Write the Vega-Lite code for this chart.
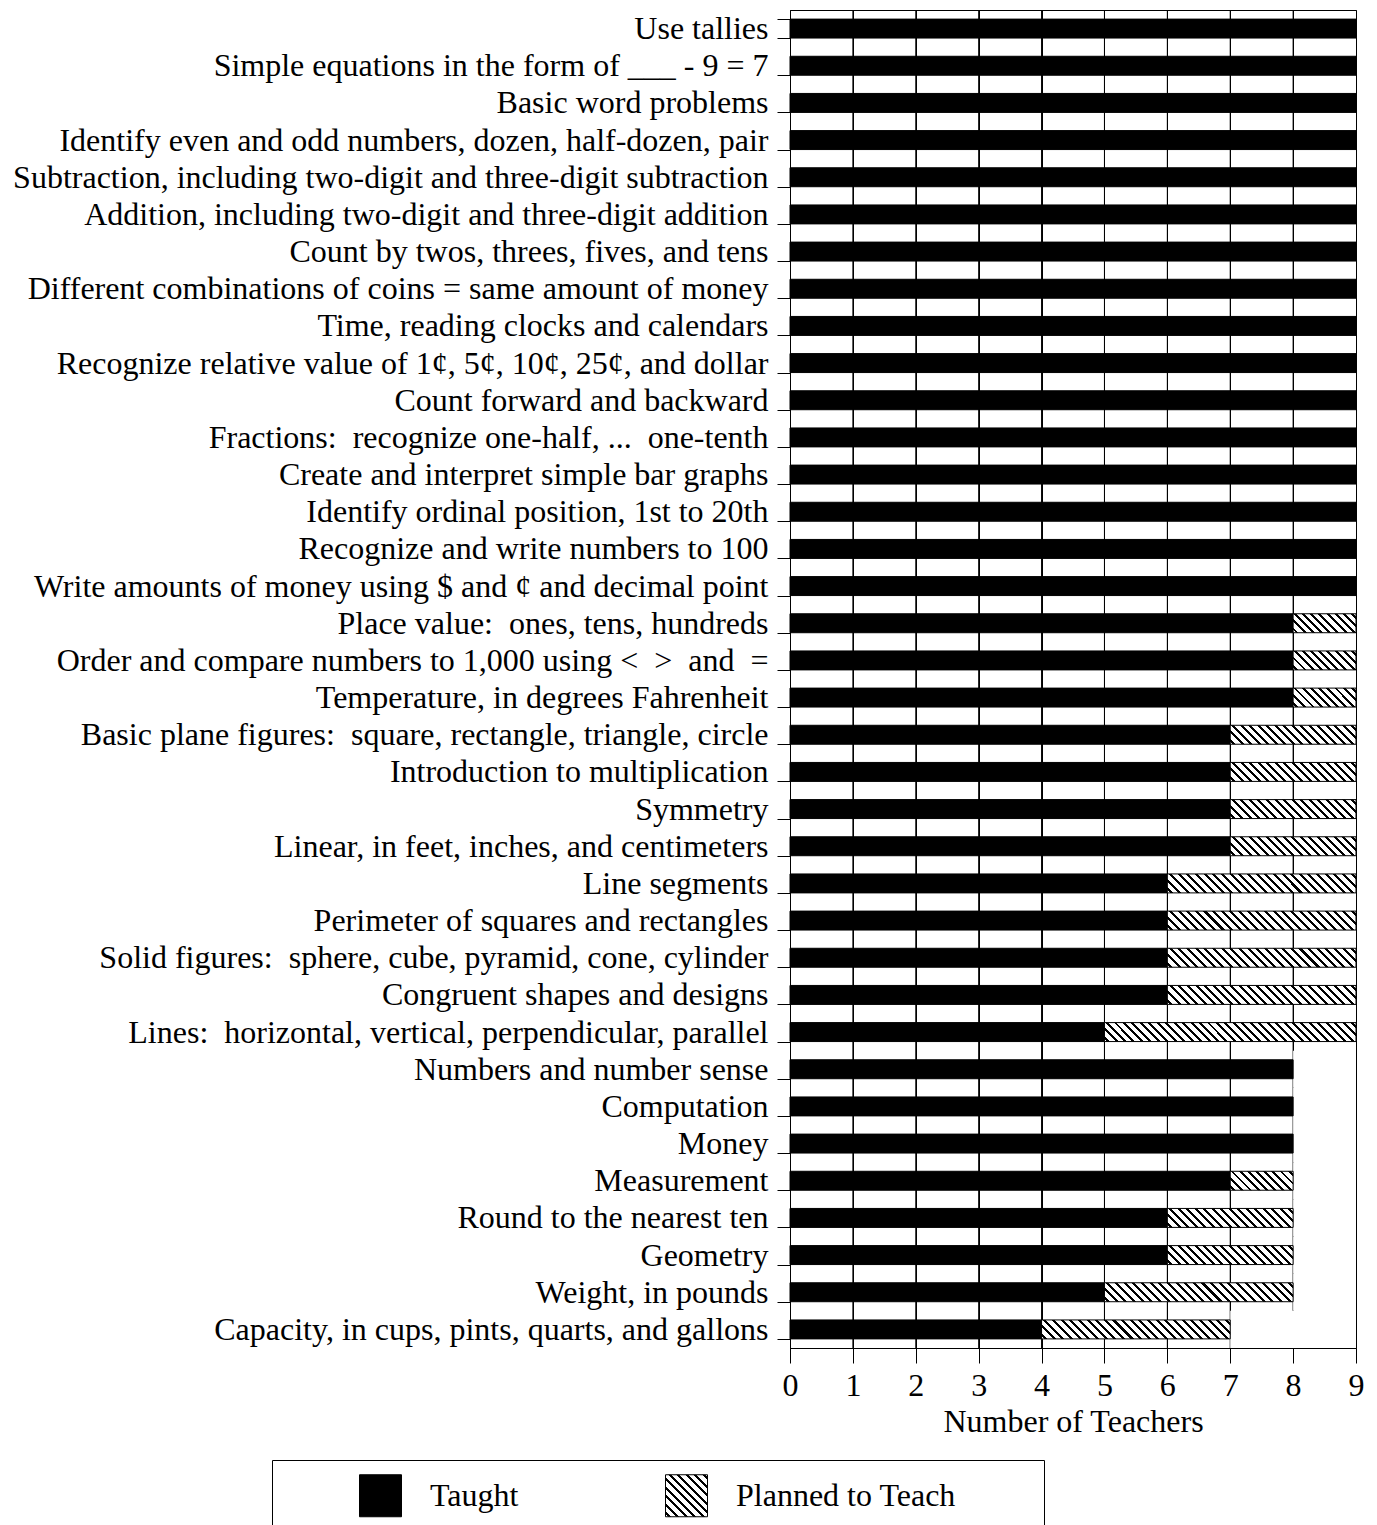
{
  "$schema": "https://vega.github.io/schema/vega-lite/v6.json",
  "width": 566,
  "height": 1338,
  "autosize": {"type": "none"},
  "padding": {"left": 790, "top": 10, "right": 21, "bottom": 177},
  "background": "white",
  "config": {
    "font": "Liberation Serif",
    "view": {"stroke": "black", "strokeWidth": 1},
    "axis": {"labelColor": "black", "titleColor": "black", "domainColor": "black", "tickColor": "black", "domainWidth": 1, "tickWidth": 1},
    "axisX": {"grid": true, "gridColor": "black", "gridOpacity": 1, "gridWidth": 1}
  },
  "datasets": {
    "grid": [{"v": 1}, {"v": 2}, {"v": 3}, {"v": 4}, {"v": 5}, {"v": 6}, {"v": 7}, {"v": 8}],
    "teachers": [
      {"topic": "Use tallies", "status": "Taught", "count": 9},
      {"topic": "Simple equations in the form of ___ - 9 = 7", "status": "Taught", "count": 9},
      {"topic": "Basic word problems", "status": "Taught", "count": 9},
      {"topic": "Identify even and odd numbers, dozen, half-dozen, pair", "status": "Taught", "count": 9},
      {"topic": "Subtraction, including two-digit and three-digit subtraction", "status": "Taught", "count": 9},
      {"topic": "Addition, including two-digit and three-digit addition", "status": "Taught", "count": 9},
      {"topic": "Count by twos, threes, fives, and tens", "status": "Taught", "count": 9},
      {"topic": "Different combinations of coins = same amount of money", "status": "Taught", "count": 9},
      {"topic": "Time, reading clocks and calendars", "status": "Taught", "count": 9},
      {"topic": "Recognize relative value of 1¢, 5¢, 10¢, 25¢, and dollar", "status": "Taught", "count": 9},
      {"topic": "Count forward and backward", "status": "Taught", "count": 9},
      {"topic": "Fractions:\u00a0 recognize one-half, ...\u00a0 one-tenth", "status": "Taught", "count": 9},
      {"topic": "Create and interpret simple bar graphs", "status": "Taught", "count": 9},
      {"topic": "Identify ordinal position, 1st to 20th", "status": "Taught", "count": 9},
      {"topic": "Recognize and write numbers to 100", "status": "Taught", "count": 9},
      {"topic": "Write amounts of money using $ and ¢ and decimal point", "status": "Taught", "count": 9},
      {"topic": "Place value:\u00a0 ones, tens, hundreds", "status": "Taught", "count": 8},
      {"topic": "Place value:\u00a0 ones, tens, hundreds", "status": "Planned to Teach", "count": 1},
      {"topic": "Order and compare numbers to 1,000 using <\u00a0 >\u00a0 and\u00a0 =", "status": "Taught", "count": 8},
      {"topic": "Order and compare numbers to 1,000 using <\u00a0 >\u00a0 and\u00a0 =", "status": "Planned to Teach", "count": 1},
      {"topic": "Temperature, in degrees Fahrenheit", "status": "Taught", "count": 8},
      {"topic": "Temperature, in degrees Fahrenheit", "status": "Planned to Teach", "count": 1},
      {"topic": "Basic plane figures:\u00a0 square, rectangle, triangle, circle", "status": "Taught", "count": 7},
      {"topic": "Basic plane figures:\u00a0 square, rectangle, triangle, circle", "status": "Planned to Teach", "count": 2},
      {"topic": "Introduction to multiplication", "status": "Taught", "count": 7},
      {"topic": "Introduction to multiplication", "status": "Planned to Teach", "count": 2},
      {"topic": "Symmetry", "status": "Taught", "count": 7},
      {"topic": "Symmetry", "status": "Planned to Teach", "count": 2},
      {"topic": "Linear, in feet, inches, and centimeters", "status": "Taught", "count": 7},
      {"topic": "Linear, in feet, inches, and centimeters", "status": "Planned to Teach", "count": 2},
      {"topic": "Line segments", "status": "Taught", "count": 6},
      {"topic": "Line segments", "status": "Planned to Teach", "count": 3},
      {"topic": "Perimeter of squares and rectangles", "status": "Taught", "count": 6},
      {"topic": "Perimeter of squares and rectangles", "status": "Planned to Teach", "count": 3},
      {"topic": "Solid figures:\u00a0 sphere, cube, pyramid, cone, cylinder", "status": "Taught", "count": 6},
      {"topic": "Solid figures:\u00a0 sphere, cube, pyramid, cone, cylinder", "status": "Planned to Teach", "count": 3},
      {"topic": "Congruent shapes and designs", "status": "Taught", "count": 6},
      {"topic": "Congruent shapes and designs", "status": "Planned to Teach", "count": 3},
      {"topic": "Lines:\u00a0 horizontal, vertical, perpendicular, parallel", "status": "Taught", "count": 5},
      {"topic": "Lines:\u00a0 horizontal, vertical, perpendicular, parallel", "status": "Planned to Teach", "count": 4},
      {"topic": "Numbers and number sense", "status": "Taught", "count": 8},
      {"topic": "Computation", "status": "Taught", "count": 8},
      {"topic": "Money", "status": "Taught", "count": 8},
      {"topic": "Measurement", "status": "Taught", "count": 7},
      {"topic": "Measurement", "status": "Planned to Teach", "count": 1},
      {"topic": "Round to the nearest ten", "status": "Taught", "count": 6},
      {"topic": "Round to the nearest ten", "status": "Planned to Teach", "count": 2},
      {"topic": "Geometry", "status": "Taught", "count": 6},
      {"topic": "Geometry", "status": "Planned to Teach", "count": 2},
      {"topic": "Weight, in pounds", "status": "Taught", "count": 5},
      {"topic": "Weight, in pounds", "status": "Planned to Teach", "count": 3},
      {"topic": "Capacity, in cups, pints, quarts, and gallons", "status": "Taught", "count": 4},
      {"topic": "Capacity, in cups, pints, quarts, and gallons", "status": "Planned to Teach", "count": 3}
    ]
  },
  "layer": [
    {
      "data": {"name": "grid"},
      "mark": {"type": "rule", "color": "black", "strokeWidth": 1},
      "encoding": {
        "x": {"field": "v", "type": "quantitative", "title": "Number of Teachers", "scale": {"domain": [0, 9], "nice": false}}
      }
    },
    {
      "data": {"name": "teachers"},
      "mark": {"type": "bar", "fill": "white", "strokeWidth": 0, "height": {"band": 1.961}},
      "encoding": {
        "y": {
          "field": "topic",
          "type": "nominal",
          "sort": null,
          "scale": {"paddingInner": 0.49, "paddingOuter": 0.245},
          "axis": {"title": null, "tickBand": "extent", "tickSize": 13, "labelFontSize": 32, "labelPadding": 9, "labelLimit": 900, "grid": false}
        },
        "x": {"aggregate": "sum", "field": "count", "type": "quantitative", "title": "Number of Teachers", "scale": {"domain": [0, 9], "nice": false}},
        "x2": {"datum": 9}
      }
    },
    {
      "data": {"name": "teachers"},
      "mark": {"type": "bar", "stroke": "black", "strokeWidth": 1},
      "encoding": {
        "y": {
          "field": "topic",
          "type": "nominal",
          "sort": null,
          "scale": {"paddingInner": 0.49, "paddingOuter": 0.245},
          "axis": {"title": null, "tickBand": "extent", "tickSize": 13, "labelFontSize": 32, "labelPadding": 9, "labelLimit": 900, "grid": false}
        },
        "x": {
          "field": "count",
          "type": "quantitative",
          "stack": "zero",
          "title": "Number of Teachers",
          "scale": {"domain": [0, 9], "nice": false},
          "axis": {"values": [0, 1, 2, 3, 4, 5, 6, 7, 8, 9], "format": "d", "grid": true, "gridColor": "black", "gridOpacity": 1, "gridWidth": 1, "tickSize": 15, "labelFontSize": 32, "labelPadding": 7, "labelFlush": false, "titleFontSize": 32, "titleFontWeight": "normal", "titlePadding": 5}
        },
        "order": {"field": "status", "type": "nominal", "sort": "descending"},
        "fill": {
          "field": "status",
          "type": "nominal",
          "scale": {"domain": ["Taught", "Planned to Teach"], "range": ["#000000", {"expr": "{gradient: 'linear', x1: 0, y1: 1, x2: 1, y2: 0, stops: [{offset: 0, color: '#fff'}, {offset: 0.0325, color: '#fff'}, {offset: 0.0325, color: '#000'}, {offset: 0.0675, color: '#000'}, {offset: 0.0675, color: '#fff'}, {offset: 0.1325, color: '#fff'}, {offset: 0.1325, color: '#000'}, {offset: 0.1675, color: '#000'}, {offset: 0.1675, color: '#fff'}, {offset: 0.2325, color: '#fff'}, {offset: 0.2325, color: '#000'}, {offset: 0.2675, color: '#000'}, {offset: 0.2675, color: '#fff'}, {offset: 0.3325, color: '#fff'}, {offset: 0.3325, color: '#000'}, {offset: 0.3675, color: '#000'}, {offset: 0.3675, color: '#fff'}, {offset: 0.4325, color: '#fff'}, {offset: 0.4325, color: '#000'}, {offset: 0.4675, color: '#000'}, {offset: 0.4675, color: '#fff'}, {offset: 0.5325, color: '#fff'}, {offset: 0.5325, color: '#000'}, {offset: 0.5675, color: '#000'}, {offset: 0.5675, color: '#fff'}, {offset: 0.6325, color: '#fff'}, {offset: 0.6325, color: '#000'}, {offset: 0.6675, color: '#000'}, {offset: 0.6675, color: '#fff'}, {offset: 0.7325, color: '#fff'}, {offset: 0.7325, color: '#000'}, {offset: 0.7675, color: '#000'}, {offset: 0.7675, color: '#fff'}, {offset: 0.8325, color: '#fff'}, {offset: 0.8325, color: '#000'}, {offset: 0.8675, color: '#000'}, {offset: 0.8675, color: '#fff'}, {offset: 0.9325, color: '#fff'}, {offset: 0.9325, color: '#000'}, {offset: 0.9675, color: '#000'}, {offset: 0.9675, color: '#fff'}, {offset: 1, color: '#fff'}]}"}]},
          "condition": [
            {"test": "datum.status === 'Planned to Teach' && datum.count === 1", "value": {"gradient": "linear", "x1": 0, "y1": 1, "x2": 1.193, "y2": 0.6405, "stops": [
              {"offset": 0, "color": "#fff"},
              {"offset": 0.0325, "color": "#fff"}, {"offset": 0.0325, "color": "#000"}, {"offset": 0.0675, "color": "#000"}, {"offset": 0.0675, "color": "#fff"},
              {"offset": 0.1325, "color": "#fff"}, {"offset": 0.1325, "color": "#000"}, {"offset": 0.1675, "color": "#000"}, {"offset": 0.1675, "color": "#fff"},
              {"offset": 0.2325, "color": "#fff"}, {"offset": 0.2325, "color": "#000"}, {"offset": 0.2675, "color": "#000"}, {"offset": 0.2675, "color": "#fff"},
              {"offset": 0.3325, "color": "#fff"}, {"offset": 0.3325, "color": "#000"}, {"offset": 0.3675, "color": "#000"}, {"offset": 0.3675, "color": "#fff"},
              {"offset": 0.4325, "color": "#fff"}, {"offset": 0.4325, "color": "#000"}, {"offset": 0.4675, "color": "#000"}, {"offset": 0.4675, "color": "#fff"},
              {"offset": 0.5325, "color": "#fff"}, {"offset": 0.5325, "color": "#000"}, {"offset": 0.5675, "color": "#000"}, {"offset": 0.5675, "color": "#fff"},
              {"offset": 0.6325, "color": "#fff"}, {"offset": 0.6325, "color": "#000"}, {"offset": 0.6675, "color": "#000"}, {"offset": 0.6675, "color": "#fff"},
              {"offset": 0.7325, "color": "#fff"}, {"offset": 0.7325, "color": "#000"}, {"offset": 0.7675, "color": "#000"}, {"offset": 0.7675, "color": "#fff"},
              {"offset": 0.8325, "color": "#fff"}, {"offset": 0.8325, "color": "#000"}, {"offset": 0.8675, "color": "#000"}, {"offset": 0.8675, "color": "#fff"},
              {"offset": 0.9325, "color": "#fff"}, {"offset": 0.9325, "color": "#000"}, {"offset": 0.9675, "color": "#000"}, {"offset": 0.9675, "color": "#fff"},
              {"offset": 1, "color": "#fff"}
            ]}},
            {"test": "datum.status === 'Planned to Teach' && datum.count === 2", "value": {"gradient": "linear", "x1": 0, "y1": 1, "x2": 1.1251, "y2": 0.8305, "stops": [
              {"offset": 0, "color": "#fff"},
              {"offset": 0.0191, "color": "#fff"}, {"offset": 0.0191, "color": "#000"}, {"offset": 0.0397, "color": "#000"}, {"offset": 0.0397, "color": "#fff"},
              {"offset": 0.0779, "color": "#fff"}, {"offset": 0.0779, "color": "#000"}, {"offset": 0.0985, "color": "#000"}, {"offset": 0.0985, "color": "#fff"},
              {"offset": 0.1367, "color": "#fff"}, {"offset": 0.1367, "color": "#000"}, {"offset": 0.1573, "color": "#000"}, {"offset": 0.1573, "color": "#fff"},
              {"offset": 0.1956, "color": "#fff"}, {"offset": 0.1956, "color": "#000"}, {"offset": 0.2162, "color": "#000"}, {"offset": 0.2162, "color": "#fff"},
              {"offset": 0.2544, "color": "#fff"}, {"offset": 0.2544, "color": "#000"}, {"offset": 0.2750, "color": "#000"}, {"offset": 0.2750, "color": "#fff"},
              {"offset": 0.3132, "color": "#fff"}, {"offset": 0.3132, "color": "#000"}, {"offset": 0.3338, "color": "#000"}, {"offset": 0.3338, "color": "#fff"},
              {"offset": 0.3720, "color": "#fff"}, {"offset": 0.3720, "color": "#000"}, {"offset": 0.3926, "color": "#000"}, {"offset": 0.3926, "color": "#fff"},
              {"offset": 0.4309, "color": "#fff"}, {"offset": 0.4309, "color": "#000"}, {"offset": 0.4515, "color": "#000"}, {"offset": 0.4515, "color": "#fff"},
              {"offset": 0.4897, "color": "#fff"}, {"offset": 0.4897, "color": "#000"}, {"offset": 0.5103, "color": "#000"}, {"offset": 0.5103, "color": "#fff"},
              {"offset": 0.5485, "color": "#fff"}, {"offset": 0.5485, "color": "#000"}, {"offset": 0.5691, "color": "#000"}, {"offset": 0.5691, "color": "#fff"},
              {"offset": 0.6073, "color": "#fff"}, {"offset": 0.6073, "color": "#000"}, {"offset": 0.6279, "color": "#000"}, {"offset": 0.6279, "color": "#fff"},
              {"offset": 0.6662, "color": "#fff"}, {"offset": 0.6662, "color": "#000"}, {"offset": 0.6868, "color": "#000"}, {"offset": 0.6868, "color": "#fff"},
              {"offset": 0.7250, "color": "#fff"}, {"offset": 0.7250, "color": "#000"}, {"offset": 0.7456, "color": "#000"}, {"offset": 0.7456, "color": "#fff"},
              {"offset": 0.7838, "color": "#fff"}, {"offset": 0.7838, "color": "#000"}, {"offset": 0.8044, "color": "#000"}, {"offset": 0.8044, "color": "#fff"},
              {"offset": 0.8426, "color": "#fff"}, {"offset": 0.8426, "color": "#000"}, {"offset": 0.8632, "color": "#000"}, {"offset": 0.8632, "color": "#fff"},
              {"offset": 0.9015, "color": "#fff"}, {"offset": 0.9015, "color": "#000"}, {"offset": 0.9221, "color": "#000"}, {"offset": 0.9221, "color": "#fff"},
              {"offset": 0.9603, "color": "#fff"}, {"offset": 0.9603, "color": "#000"}, {"offset": 0.9809, "color": "#000"}, {"offset": 0.9809, "color": "#fff"},
              {"offset": 1, "color": "#fff"}
            ]}},
            {"test": "datum.status === 'Planned to Teach' && datum.count === 3", "value": {"gradient": "linear", "x1": 0, "y1": 1, "x2": 1.0894, "y2": 0.8906, "stops": [
              {"offset": 0, "color": "#fff"},
              {"offset": 0.0135, "color": "#fff"}, {"offset": 0.0135, "color": "#000"}, {"offset": 0.0281, "color": "#000"}, {"offset": 0.0281, "color": "#fff"},
              {"offset": 0.0552, "color": "#fff"}, {"offset": 0.0552, "color": "#000"}, {"offset": 0.0698, "color": "#000"}, {"offset": 0.0698, "color": "#fff"},
              {"offset": 0.0969, "color": "#fff"}, {"offset": 0.0969, "color": "#000"}, {"offset": 0.1115, "color": "#000"}, {"offset": 0.1115, "color": "#fff"},
              {"offset": 0.1385, "color": "#fff"}, {"offset": 0.1385, "color": "#000"}, {"offset": 0.1531, "color": "#000"}, {"offset": 0.1531, "color": "#fff"},
              {"offset": 0.1802, "color": "#fff"}, {"offset": 0.1802, "color": "#000"}, {"offset": 0.1948, "color": "#000"}, {"offset": 0.1948, "color": "#fff"},
              {"offset": 0.2219, "color": "#fff"}, {"offset": 0.2219, "color": "#000"}, {"offset": 0.2365, "color": "#000"}, {"offset": 0.2365, "color": "#fff"},
              {"offset": 0.2635, "color": "#fff"}, {"offset": 0.2635, "color": "#000"}, {"offset": 0.2781, "color": "#000"}, {"offset": 0.2781, "color": "#fff"},
              {"offset": 0.3052, "color": "#fff"}, {"offset": 0.3052, "color": "#000"}, {"offset": 0.3198, "color": "#000"}, {"offset": 0.3198, "color": "#fff"},
              {"offset": 0.3469, "color": "#fff"}, {"offset": 0.3469, "color": "#000"}, {"offset": 0.3615, "color": "#000"}, {"offset": 0.3615, "color": "#fff"},
              {"offset": 0.3885, "color": "#fff"}, {"offset": 0.3885, "color": "#000"}, {"offset": 0.4031, "color": "#000"}, {"offset": 0.4031, "color": "#fff"},
              {"offset": 0.4302, "color": "#fff"}, {"offset": 0.4302, "color": "#000"}, {"offset": 0.4448, "color": "#000"}, {"offset": 0.4448, "color": "#fff"},
              {"offset": 0.4719, "color": "#fff"}, {"offset": 0.4719, "color": "#000"}, {"offset": 0.4865, "color": "#000"}, {"offset": 0.4865, "color": "#fff"},
              {"offset": 0.5135, "color": "#fff"}, {"offset": 0.5135, "color": "#000"}, {"offset": 0.5281, "color": "#000"}, {"offset": 0.5281, "color": "#fff"},
              {"offset": 0.5552, "color": "#fff"}, {"offset": 0.5552, "color": "#000"}, {"offset": 0.5698, "color": "#000"}, {"offset": 0.5698, "color": "#fff"},
              {"offset": 0.5969, "color": "#fff"}, {"offset": 0.5969, "color": "#000"}, {"offset": 0.6115, "color": "#000"}, {"offset": 0.6115, "color": "#fff"},
              {"offset": 0.6385, "color": "#fff"}, {"offset": 0.6385, "color": "#000"}, {"offset": 0.6531, "color": "#000"}, {"offset": 0.6531, "color": "#fff"},
              {"offset": 0.6802, "color": "#fff"}, {"offset": 0.6802, "color": "#000"}, {"offset": 0.6948, "color": "#000"}, {"offset": 0.6948, "color": "#fff"},
              {"offset": 0.7219, "color": "#fff"}, {"offset": 0.7219, "color": "#000"}, {"offset": 0.7365, "color": "#000"}, {"offset": 0.7365, "color": "#fff"},
              {"offset": 0.7635, "color": "#fff"}, {"offset": 0.7635, "color": "#000"}, {"offset": 0.7781, "color": "#000"}, {"offset": 0.7781, "color": "#fff"},
              {"offset": 0.8052, "color": "#fff"}, {"offset": 0.8052, "color": "#000"}, {"offset": 0.8198, "color": "#000"}, {"offset": 0.8198, "color": "#fff"},
              {"offset": 0.8469, "color": "#fff"}, {"offset": 0.8469, "color": "#000"}, {"offset": 0.8615, "color": "#000"}, {"offset": 0.8615, "color": "#fff"},
              {"offset": 0.8885, "color": "#fff"}, {"offset": 0.8885, "color": "#000"}, {"offset": 0.9031, "color": "#000"}, {"offset": 0.9031, "color": "#fff"},
              {"offset": 0.9302, "color": "#fff"}, {"offset": 0.9302, "color": "#000"}, {"offset": 0.9448, "color": "#000"}, {"offset": 0.9448, "color": "#fff"},
              {"offset": 0.9719, "color": "#fff"}, {"offset": 0.9719, "color": "#000"}, {"offset": 0.9865, "color": "#000"}, {"offset": 0.9865, "color": "#fff"},
              {"offset": 1, "color": "#fff"}
            ]}},
            {"test": "datum.status === 'Planned to Teach' && datum.count === 4", "value": {"gradient": "linear", "x1": 0, "y1": 1, "x2": 1.0693, "y2": 0.9195, "stops": [
              {"offset": 0, "color": "#fff"},
              {"offset": 0.0102, "color": "#fff"}, {"offset": 0.0102, "color": "#000"}, {"offset": 0.0211, "color": "#000"}, {"offset": 0.0211, "color": "#fff"},
              {"offset": 0.0414, "color": "#fff"}, {"offset": 0.0414, "color": "#000"}, {"offset": 0.0523, "color": "#000"}, {"offset": 0.0523, "color": "#fff"},
              {"offset": 0.0727, "color": "#fff"}, {"offset": 0.0727, "color": "#000"}, {"offset": 0.0836, "color": "#000"}, {"offset": 0.0836, "color": "#fff"},
              {"offset": 0.1039, "color": "#fff"}, {"offset": 0.1039, "color": "#000"}, {"offset": 0.1148, "color": "#000"}, {"offset": 0.1148, "color": "#fff"},
              {"offset": 0.1352, "color": "#fff"}, {"offset": 0.1352, "color": "#000"}, {"offset": 0.1461, "color": "#000"}, {"offset": 0.1461, "color": "#fff"},
              {"offset": 0.1664, "color": "#fff"}, {"offset": 0.1664, "color": "#000"}, {"offset": 0.1773, "color": "#000"}, {"offset": 0.1773, "color": "#fff"},
              {"offset": 0.1977, "color": "#fff"}, {"offset": 0.1977, "color": "#000"}, {"offset": 0.2086, "color": "#000"}, {"offset": 0.2086, "color": "#fff"},
              {"offset": 0.2289, "color": "#fff"}, {"offset": 0.2289, "color": "#000"}, {"offset": 0.2398, "color": "#000"}, {"offset": 0.2398, "color": "#fff"},
              {"offset": 0.2602, "color": "#fff"}, {"offset": 0.2602, "color": "#000"}, {"offset": 0.2711, "color": "#000"}, {"offset": 0.2711, "color": "#fff"},
              {"offset": 0.2914, "color": "#fff"}, {"offset": 0.2914, "color": "#000"}, {"offset": 0.3023, "color": "#000"}, {"offset": 0.3023, "color": "#fff"},
              {"offset": 0.3227, "color": "#fff"}, {"offset": 0.3227, "color": "#000"}, {"offset": 0.3336, "color": "#000"}, {"offset": 0.3336, "color": "#fff"},
              {"offset": 0.3539, "color": "#fff"}, {"offset": 0.3539, "color": "#000"}, {"offset": 0.3648, "color": "#000"}, {"offset": 0.3648, "color": "#fff"},
              {"offset": 0.3852, "color": "#fff"}, {"offset": 0.3852, "color": "#000"}, {"offset": 0.3961, "color": "#000"}, {"offset": 0.3961, "color": "#fff"},
              {"offset": 0.4164, "color": "#fff"}, {"offset": 0.4164, "color": "#000"}, {"offset": 0.4273, "color": "#000"}, {"offset": 0.4273, "color": "#fff"},
              {"offset": 0.4477, "color": "#fff"}, {"offset": 0.4477, "color": "#000"}, {"offset": 0.4586, "color": "#000"}, {"offset": 0.4586, "color": "#fff"},
              {"offset": 0.4789, "color": "#fff"}, {"offset": 0.4789, "color": "#000"}, {"offset": 0.4898, "color": "#000"}, {"offset": 0.4898, "color": "#fff"},
              {"offset": 0.5102, "color": "#fff"}, {"offset": 0.5102, "color": "#000"}, {"offset": 0.5211, "color": "#000"}, {"offset": 0.5211, "color": "#fff"},
              {"offset": 0.5414, "color": "#fff"}, {"offset": 0.5414, "color": "#000"}, {"offset": 0.5523, "color": "#000"}, {"offset": 0.5523, "color": "#fff"},
              {"offset": 0.5727, "color": "#fff"}, {"offset": 0.5727, "color": "#000"}, {"offset": 0.5836, "color": "#000"}, {"offset": 0.5836, "color": "#fff"},
              {"offset": 0.6039, "color": "#fff"}, {"offset": 0.6039, "color": "#000"}, {"offset": 0.6148, "color": "#000"}, {"offset": 0.6148, "color": "#fff"},
              {"offset": 0.6352, "color": "#fff"}, {"offset": 0.6352, "color": "#000"}, {"offset": 0.6461, "color": "#000"}, {"offset": 0.6461, "color": "#fff"},
              {"offset": 0.6664, "color": "#fff"}, {"offset": 0.6664, "color": "#000"}, {"offset": 0.6773, "color": "#000"}, {"offset": 0.6773, "color": "#fff"},
              {"offset": 0.6977, "color": "#fff"}, {"offset": 0.6977, "color": "#000"}, {"offset": 0.7086, "color": "#000"}, {"offset": 0.7086, "color": "#fff"},
              {"offset": 0.7289, "color": "#fff"}, {"offset": 0.7289, "color": "#000"}, {"offset": 0.7398, "color": "#000"}, {"offset": 0.7398, "color": "#fff"},
              {"offset": 0.7602, "color": "#fff"}, {"offset": 0.7602, "color": "#000"}, {"offset": 0.7711, "color": "#000"}, {"offset": 0.7711, "color": "#fff"},
              {"offset": 0.7914, "color": "#fff"}, {"offset": 0.7914, "color": "#000"}, {"offset": 0.8023, "color": "#000"}, {"offset": 0.8023, "color": "#fff"},
              {"offset": 0.8227, "color": "#fff"}, {"offset": 0.8227, "color": "#000"}, {"offset": 0.8336, "color": "#000"}, {"offset": 0.8336, "color": "#fff"},
              {"offset": 0.8539, "color": "#fff"}, {"offset": 0.8539, "color": "#000"}, {"offset": 0.8648, "color": "#000"}, {"offset": 0.8648, "color": "#fff"},
              {"offset": 0.8852, "color": "#fff"}, {"offset": 0.8852, "color": "#000"}, {"offset": 0.8961, "color": "#000"}, {"offset": 0.8961, "color": "#fff"},
              {"offset": 0.9164, "color": "#fff"}, {"offset": 0.9164, "color": "#000"}, {"offset": 0.9273, "color": "#000"}, {"offset": 0.9273, "color": "#fff"},
              {"offset": 0.9477, "color": "#fff"}, {"offset": 0.9477, "color": "#000"}, {"offset": 0.9586, "color": "#000"}, {"offset": 0.9586, "color": "#fff"},
              {"offset": 0.9789, "color": "#fff"}, {"offset": 0.9789, "color": "#000"}, {"offset": 0.9898, "color": "#000"}, {"offset": 0.9898, "color": "#fff"},
              {"offset": 1, "color": "#fff"}
            ]}}
          ],
          "legend": {
            "title": " ",
            "titleOrient": "right",
            "titlePadding": 74,
            "titleFontSize": 32,
            "orient": "none",
            "legendX": -518,
            "legendY": 1450,
            "direction": "horizontal",
            "symbolType": "square",
            "symbolSize": 1764,
            "symbolStrokeColor": "black",
            "symbolStrokeWidth": 1,
            "symbolOpacity": 1,
            "symbolOffset": 73,
            "labelOffset": 28,
            "labelFontSize": 32,
            "labelColor": "black",
            "labelLimit": 400,
            "strokeColor": "black",
            "padding": 14,
            "columnPadding": 73
          }
        }
      }
    }
  ]
}
